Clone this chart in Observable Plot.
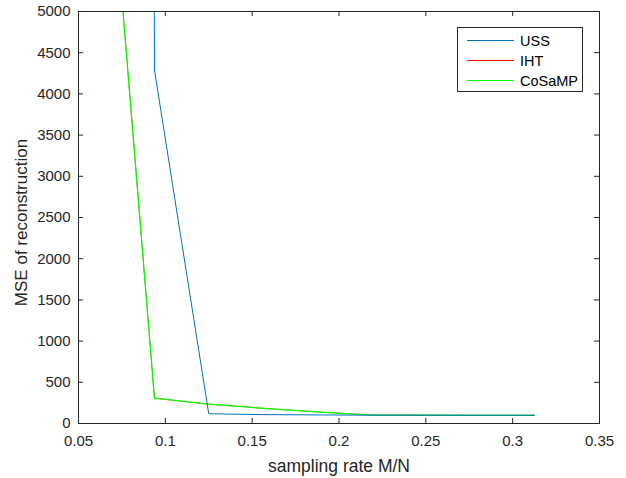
<!DOCTYPE html>
<html>
<head>
<meta charset="utf-8">
<script src="https://cdn.jsdelivr.net/npm/d3@7"></script>
<script src="https://cdn.jsdelivr.net/npm/@observablehq/plot@0.6"></script>
<style>
  html, body { margin: 0; padding: 0; background: #fff; }
  #wrap { position: relative; width: 626px; height: 478px; font-family: "Liberation Sans", Arial, Helvetica, sans-serif; }
  #legend { position: absolute; left: 456px; top: 26px; }
</style>
</head>
<body>
<div id="wrap"></div>
<script>
const rates = [0.0625, 0.09375, 0.125, 0.15625, 0.1875, 0.21875, 0.25, 0.28125, 0.3125];
const uss = [250000, 4290, 118, 108, 104, 101, 100, 100, 100];
const iht = [8400, 307, 235, 185, 140, 103, 101, 100, 100];
const cosamp = [8400, 307, 235, 185, 140, 103, 101, 100, 100];
const seriesNames = ["USS", "IHT", "CoSaMP"];
const seriesColors = ["#0072BD", "#FF0000", "#00FF00"];
const xTicks = [0.05, 0.1, 0.15, 0.2, 0.25, 0.3, 0.35];
const yTicks = [0, 500, 1000, 1500, 2000, 2500, 3000, 3500, 4000, 4500, 5000];
const xLabel = "sampling rate M/N";
const yLabel = "MSE of reconstruction";

const W = 626, H = 478, mL = 78, mR = 27, mT = 11, mB = 55;
const pw = W - mL - mR, ph = H - mT - mB;
const ink = "#262626";

const seriesVals = [uss, iht, cosamp];
const widths = [1, 0.6, 1.25];
const lineMarks = [1, 2, 0].map(i =>
  Plot.line(rates.map((r, j) => ({x: r, y: seriesVals[i][j]})), {
    x: "x", y: "y", stroke: seriesColors[i], strokeWidth: widths[i], clip: true
  })
);

const chart = Plot.plot({
  width: W, height: H,
  marginLeft: mL, marginRight: mR, marginTop: mT, marginBottom: mB,
  style: {fontFamily: '"Liberation Sans", Arial, Helvetica, sans-serif', color: ink, background: "#fff"},
  x: {domain: [0.05, 0.35], label: null, axis: null},
  y: {domain: [0, 5000], label: null, axis: null},
  marks: [
    ...lineMarks,
    Plot.axisX(xTicks, {anchor: "bottom", tickSize: 0, tickPadding: 12, fontSize: 15, fill: ink, tickFormat: d => String(d), label: null}),
    Plot.axisY(yTicks, {anchor: "left", tickSize: 0, tickPadding: 8, fontSize: 15, fill: ink, tickFormat: d => String(d), label: null}),
    Plot.ruleX(xTicks, {x: d => d, insetTop: ph - 5, stroke: ink}),
    Plot.ruleX(xTicks, {x: d => d, insetBottom: ph - 5, stroke: ink}),
    Plot.ruleY(yTicks, {y: d => d, insetRight: pw - 5, stroke: ink}),
    Plot.ruleY(yTicks, {y: d => d, insetLeft: pw - 5, stroke: ink}),
    Plot.frame({stroke: ink, strokeWidth: 1}),
    Plot.text([xLabel], {text: d => d, frameAnchor: "bottom", dy: 43, fontSize: 17.5, fill: ink, lineAnchor: "middle", textAnchor: "middle"}),
    Plot.text([yLabel], {text: d => d, frameAnchor: "left", dx: -57, dy: 5, rotate: -90, fontSize: 17, fill: ink, lineAnchor: "middle", textAnchor: "middle"})
  ]
});

const wrap = document.getElementById("wrap");
wrap.appendChild(chart);

// legend box
const lg = d3.create("svg").attr("id", "legend").attr("width", 128).attr("height", 67);
lg.append("rect").attr("x", 1.5).attr("y", 1.5).attr("width", 125).attr("height", 64)
  .attr("fill", "#fff").attr("stroke", ink).attr("stroke-width", 1);
seriesNames.forEach((name, i) => {
  const cy = 14.5 + i * 20;
  lg.append("line").attr("x1", 11).attr("x2", 58).attr("y1", cy).attr("y2", cy)
    .attr("stroke", seriesColors[i]).attr("stroke-width", 1);
  lg.append("text").attr("x", 64).attr("y", cy).attr("dy", "0.35em")
    .attr("font-family", '"Liberation Sans", Arial, Helvetica, sans-serif')
    .attr("font-size", 14.5).attr("fill", "#000").text(name);
});
wrap.appendChild(lg.node());
</script>
</body>
</html>
